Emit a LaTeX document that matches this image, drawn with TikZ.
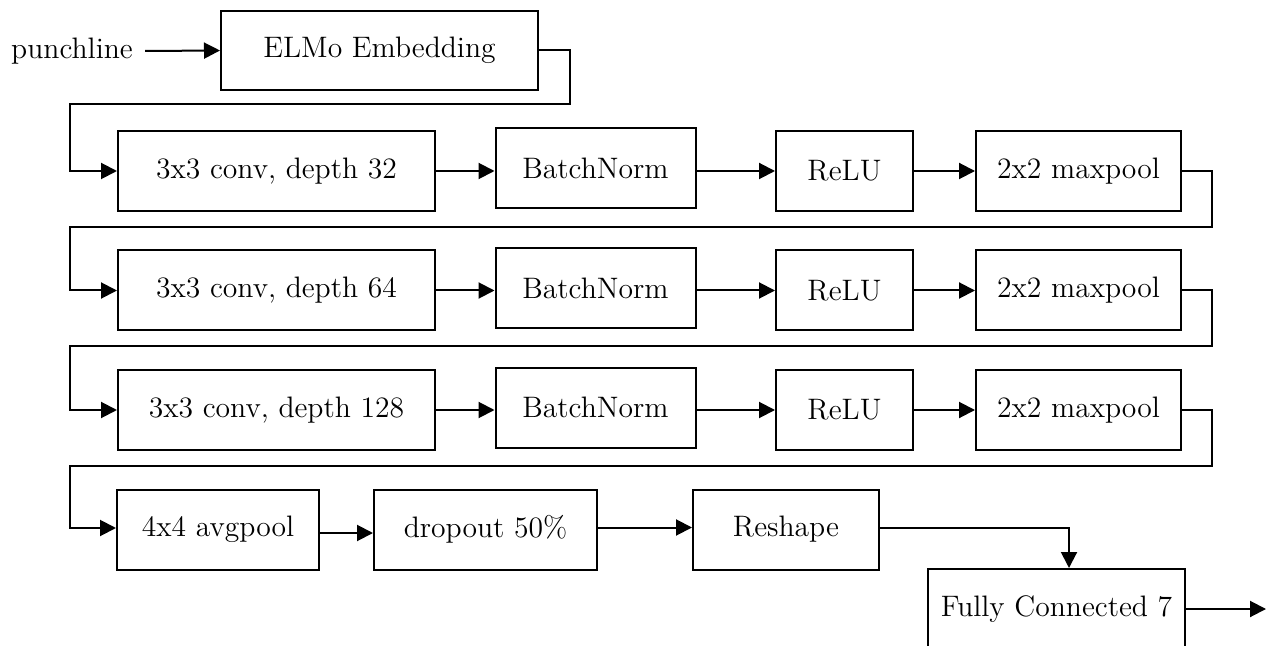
\documentclass[tikz,border=0pt]{standalone}
\usetikzlibrary{arrows.meta}
\begin{document}
\begin{tikzpicture}[x=0.5pt, y=-0.5pt,
  box/.style={draw, line width=1pt, inner sep=0pt, minimum height=40pt,
    font=\fontsize{14.8}{17}\selectfont},
  lbl/.style={inner ysep=0pt, inner xsep=6pt, font=\fontsize{14.8}{17}\selectfont},
  arr/.style={line width=1pt, -{Triangle[length=8pt,width=8pt]}},
  wire/.style={line width=1pt}]
\clip (0,0) rectangle (1278,646);

% input and embedding
\node[lbl] (punch) at (72,51) {punchline};
\node[box, minimum width=158.5pt, minimum height=39.5pt] (elmo) at (379.5,50.5) {ELMo Embedding};

% three convolution blocks
\foreach \r/\y/\d in {1/171/32, 2/290.5/64, 3/410/128}{
  \node[box, minimum width=158.5pt] (conv\r) at (276.5,\y) {3x3 conv, depth \d};
  \node[box, minimum width=100pt]   (bn\r)   at (595.5,\y-2.5) {BatchNorm};
  \node[box, minimum width=68.5pt]  (relu\r) at (844.5,\y) {ReLU};
  \node[box, minimum width=102.5pt] (pool\r) at (1078.5,\y) {2x2 maxpool};
}

% head
\node[box, minimum width=101pt]   (avg)     at (218,529.5) {4x4 avgpool};
\node[box, minimum width=111.5pt] (drop)    at (485.5,529.5) {dropout 50\%};
\node[box, minimum width=93pt]    (reshape) at (786,529.5) {Reshape};
\node[box, minimum width=128.5pt] (fc)      at (1056.5,609) {Fully Connected 7};
\coordinate (out) at (1266,609);

% connectors
\draw[arr] (punch.east) -- (elmo.west);
\draw[arr] (elmo.east) -- (570,50.5) -- (570,104) -- (70,104) -- (70,171) -- (conv1.west);
\foreach \r in {1,2,3}{
  \draw[arr] (conv\r.east) -- (conv\r.east -| bn\r.west);
  \draw[arr] (bn\r.east |- relu\r.west) -- (relu\r.west);
  \draw[arr] (relu\r.east) -- (pool\r.west);
}
\draw[arr] (pool1.east) -- (1212,171) -- (1212,227) -- (70,227) -- (70,290.5) -- (conv2.west);
\draw[arr] (pool2.east) -- (1212,290.5) -- (1212,346) -- (70,346) -- (70,410) -- (conv3.west);
\draw[arr] (pool3.east) -- (1212,410) -- (1212,466) -- (70,466) -- (70,528) -- ([yshift=0.75pt]avg.west);
\draw[arr] ([yshift=-1.75pt]avg.east) -- ([yshift=-1.75pt]drop.west);
\draw[arr] ([yshift=1pt]drop.east) -- ([yshift=1pt]reshape.west);
\draw[arr] ([yshift=1pt]reshape.east) -| ([xshift=6.25pt]fc.north);
\draw[arr] (fc.east) -- (fc.east -| out);
\end{tikzpicture}
\end{document}
